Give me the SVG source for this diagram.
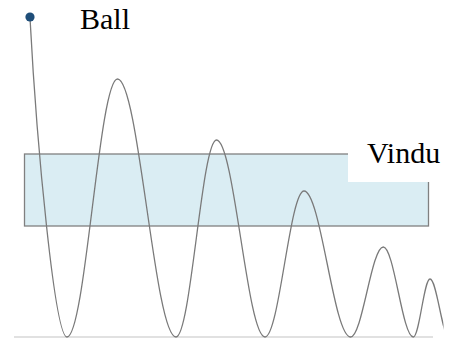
<svg xmlns="http://www.w3.org/2000/svg" width="455" height="338" viewBox="0 0 455 338">
<style>
.lbl{font-family:"Liberation Serif","Times New Roman",serif;font-size:30px;fill:#000}
.curve{fill:none;stroke:#7a7a7a;stroke-width:1.3}
.ground{stroke:#c4c4c4;stroke-width:1.2}
.win{fill:#daedf3;stroke:#808080;stroke-width:1.3}
</style>
<defs>
<clipPath id="cut"><rect x="0" y="0" width="443.5" height="338"/></clipPath>
</defs>
<rect width="455" height="338" fill="#fff"/>
<g id="window">
<rect class="win" x="24.5" y="154" width="404" height="72"/>
</g>
<g id="ground">
<line class="ground" x1="14" y1="337" x2="433" y2="337"/>
</g>
<g id="connectors">
<path class="curve" clip-path="url(#cut)" d="M30,18 C37,150 55,337 67,337 C85.4,337 99.1,79 117.5,79 C138.8,79 154.7,337 176,337 C190.8,337 201.8,140 216.5,140 C234.2,140 247.3,337 265,337 C279.2,337 289.8,191 304,191 C320.9,191 333.6,337 350.5,337 C362.4,337 371.4,247 383.3,247 C394.2,247 402.4,337 413.3,337 C419.4,337 423.9,279 430,279 C436.9,279 442.1,337 449,337"/>
</g>
<g id="ball">
<circle cx="30" cy="17" r="4.6" fill="#1f4e79"/>
<text class="lbl" x="80" y="29">Ball</text>
</g>
<g id="vindu">
<rect x="348" y="135" width="107" height="47" fill="#fff"/>
<text class="lbl" x="367" y="163">Vindu</text>
</g>
</svg>
